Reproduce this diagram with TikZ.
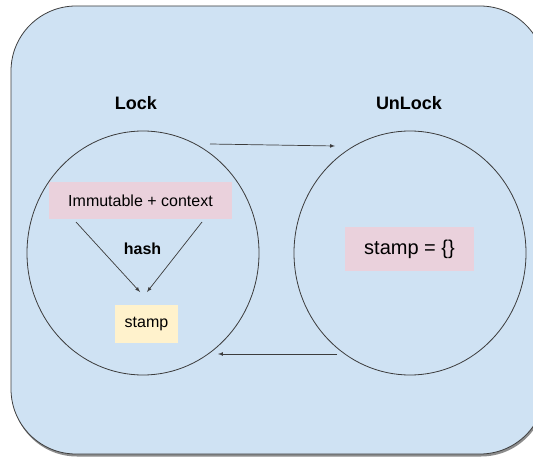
\documentclass[tikz,border=0pt]{standalone}
\usepackage{fontspec}
\setmainfont{Liberation Sans}
\usetikzlibrary{shapes.geometric}
\begin{document}
\begin{tikzpicture}[>=latex,x=1pt,y=-1pt,line width=0.8pt]
\definecolor{bgblue}{HTML}{CFE2F3}
\definecolor{boxpink}{HTML}{EAD1DC}
\definecolor{boxyellow}{HTML}{FFF2CC}
\definecolor{edgegray}{HTML}{3C3C3C}
\tikzset{state/.style={draw=edgegray,ellipse,minimum width=232pt,minimum height=244pt,inner sep=0pt},
  title/.style={font=\bfseries\fontsize{18}{21}\selectfont},
  flow/.style={->,color=edgegray,line width=0.7pt}}
\useasboundingbox (0,0) rectangle (533,457);
\begin{scope}
\clip (0,0) rectangle (533,457);
\fill[color=black!45,rounded corners=65pt] (12,8) rectangle (546,456.5);
\fill[color=bgblue,rounded corners=65pt] (11,6) rectangle (545,454);
\draw[color=edgegray,rounded corners=65pt] (11,6) rectangle (545,454);
\end{scope}
\node[state] (lock) at (143,253) {};
\node[state] (unlock) at (410,253) {};
\node[title] (locklabel) at (136,103) {Lock};
\node[title] (unlocklabel) at (409,103) {UnLock};
\node[fill=boxpink,minimum width=183pt,minimum height=37pt,font=\fontsize{16}{19}\selectfont] (ctx) at (140.5,200.5) {Immutable + context};
\node[font=\bfseries\fontsize{16}{19}\selectfont] (hash) at (142.5,249) {hash};
\node[fill=boxyellow,minimum width=63pt,minimum height=38pt,font=\fontsize{16}{19}\selectfont] (stamp) at (146.5,324) {stamp};
\node[fill=boxpink,minimum width=129pt,minimum height=44pt,font=\fontsize{20}{24}\selectfont] (emptystamp) at (409.5,249) {stamp = \{\}};
% hash arrows
\coordinate (ctxl) at (76,222);
\coordinate (ctxr) at (202,222);
\coordinate (stampl) at (140,292);
\coordinate (stampr) at (147,292);
\draw[flow] (ctxl)--(stampl);
\draw[flow] (ctxr)--(stampr);
% lock / unlock arrows
\coordinate (lockout) at (210,144);
\coordinate (unlockin) at (335,146);
\coordinate (unlockout) at (337,354);
\coordinate (lockin) at (218,354);
\draw[flow] (lockout)--(unlockin);
\draw[flow] (unlockout)--(lockin);
\end{tikzpicture}
\end{document}
